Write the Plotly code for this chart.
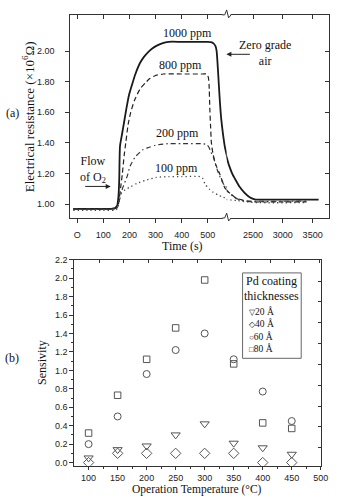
import plotly.graph_objects as go

# ---------------- data: panel (a) ----------------
# early segment (0-600 s) and late segment (2000-3600 s) of each curve
t_1000_early = [-15, 50, 100, 130, 145, 153, 158, 161, 164, 172, 180, 189, 198, 210, 223, 240, 255, 270, 285, 305, 325, 350, 400, 450, 500, 512, 522, 530, 534, 540, 546, 552, 559, 566, 590]
r_1000_early = [0.97, 0.97, 0.97, 0.97, 0.975, 0.99, 1.05, 1.16, 1.38, 1.46, 1.54, 1.63, 1.71, 1.78, 1.85, 1.92, 1.96, 1.99, 2.013, 2.035, 2.05, 2.06, 2.06, 2.06, 2.06, 2.058, 2.05, 2.03, 2.00, 1.85, 1.68, 1.55, 1.45, 1.37, 1.20]
t_1000_late = [2040, 2100, 2150, 2212, 2280, 2350, 2420, 2480, 2545, 2600, 3000, 3600]
r_1000_late = [1.33, 1.25, 1.20, 1.155, 1.11, 1.077, 1.052, 1.038, 1.03, 1.03, 1.03, 1.03]

t_800_early = [-15, 50, 100, 140, 152, 158, 163, 168, 173, 180, 186, 195, 205, 220, 240, 260, 278, 300, 330, 400, 480, 495, 502, 505, 508, 511, 514, 520, 530, 543, 556, 566, 590]
r_800_early = [0.97, 0.97, 0.97, 0.97, 0.975, 1.0, 1.06, 1.13, 1.20, 1.32, 1.40, 1.52, 1.60, 1.68, 1.75, 1.79, 1.82, 1.84, 1.85, 1.85, 1.85, 1.85, 1.83, 1.78, 1.62, 1.50, 1.40, 1.33, 1.26, 1.21, 1.15, 1.105, 1.07]
t_800_late = [2040, 2120, 2215, 2300, 2380, 2500, 3000, 3400]
r_800_late = [1.09, 1.07, 1.04, 1.03, 1.02, 1.015, 1.015, 1.015]

t_200_early = [-15, 50, 100, 140, 155, 161, 173, 192, 203, 223, 253, 273, 300, 348, 400, 480, 496, 505, 512, 521, 540, 565, 590]
r_200_early = [0.97, 0.97, 0.97, 0.97, 0.98, 1.02, 1.10, 1.185, 1.25, 1.31, 1.357, 1.37, 1.385, 1.395, 1.395, 1.395, 1.39, 1.37, 1.34, 1.31, 1.206, 1.12, 1.095]
t_200_late = [2040, 2100, 2189, 2300, 2450, 3400]
r_200_late = [1.10, 1.075, 1.045, 1.025, 1.02, 1.02]

t_100_early = [-15, 50, 100, 140, 150, 158, 163, 170, 185, 200, 228, 260, 303, 350, 400, 470, 480, 490, 505, 521, 540, 559, 590]
r_100_early = [0.96, 0.96, 0.96, 0.96, 0.965, 1.0, 1.06, 1.08, 1.095, 1.11, 1.135, 1.155, 1.175, 1.18, 1.18, 1.18, 1.17, 1.13, 1.10, 1.077, 1.06, 1.045, 1.035]
t_100_late = [2040, 2227, 2434, 2600, 3400]
r_100_late = [1.03, 1.024, 1.013, 1.01, 1.01]

time_ticks_early = [0, 100, 200, 300, 400, 500]
time_labels_early = ["O", "100", "200", "300", "400", "500"]
time_ticks_late = [2500, 3000, 3500]
time_labels_late = ["2500", "3000", "3500"]
res_ticks = [1.00, 1.20, 1.40, 1.60, 1.80, 2.00]
res_labels = ["1.00", "1.20", "1.40", "1.60", "1.80", "2.00"]

# ---------------- data: panel (b) ----------------
temperature = [100, 150, 200, 250, 300, 350, 400, 450]
sens_20A = [0.05, 0.14, 0.18, 0.30, 0.42, 0.21, 0.16, 0.09]
sens_40A = [0.00, 0.10, 0.10, 0.10, 0.10, 0.10, 0.00, 0.00]
sens_60A = [0.20, 0.50, 0.96, 1.22, 1.40, 1.12, 0.77, 0.45]
sens_80A = [0.32, 0.73, 1.12, 1.46, 1.98, 1.07, 0.43, 0.37]
temp_ticks = [100, 150, 200, 250, 300, 350, 400, 450, 500]
legend_labels = ["▽20 Å", "◇40 Å", "○60 Å", "□80 Å"]

# ---------------- helpers ----------------
W, H = 348, 502
def PX(x):
    return x / W
def PY(y):
    return 1 - y / H

SERIF = "Liberation Serif, Times New Roman, serif"
SANS = "Liberation Sans Narrow, Arial Narrow, Liberation Sans, Arial, sans-serif"
INK = "#1a1a1a"
tick_font = dict(family=SANS, size=9, color="#222")

fig = go.Figure()

line_styles = {
    "1000": dict(color=INK, width=1.8, dash="solid"),
    "800": dict(color="#222", width=1.2, dash="5px,3px"),
    "200": dict(color="#333", width=1.2, dash="5px,3px,1.5px,3px"),
    "100": dict(color="#444", width=1.3, dash="1.3px,3px"),
}
series = [
    ("1000", t_1000_early, r_1000_early, t_1000_late, r_1000_late),
    ("800", t_800_early, r_800_early, t_800_late, r_800_late),
    ("200", t_200_early, r_200_early, t_200_late, r_200_late),
    ("100", t_100_early, r_100_early, t_100_late, r_100_late),
]
for name, te, re_, tl, rl in series:
    fig.add_trace(go.Scatter(x=te, y=re_, mode="lines", line=dict(shape="spline", smoothing=0.6, **line_styles[name]),
                             xaxis="x", yaxis="y", showlegend=False, hoverinfo="skip"))
    fig.add_trace(go.Scatter(x=tl, y=rl, mode="lines", line=dict(shape="spline", smoothing=0.6, **line_styles[name]),
                             xaxis="x2", yaxis="y", showlegend=False, hoverinfo="skip"))

marker_color = "#555"
for vals, sym, size in [(sens_20A, "triangle-down-open", 8), (sens_40A, "diamond-open", 8),
                        (sens_60A, "circle-open", 7), (sens_80A, "square-open", 6.5)]:
    fig.add_trace(go.Scatter(x=temperature, y=vals, mode="markers",
                             marker=dict(symbol=sym, size=size, color=marker_color, line=dict(width=1, color=marker_color)),
                             xaxis="x5", yaxis="y3", showlegend=False, hoverinfo="skip"))

# dummy traces so overlay axes are drawn
for xa, ya in [("x3", "y"), ("x4", "y"), ("x2", "y2"), ("x6", "y3"), ("x5", "y4")]:
    fig.add_trace(go.Scatter(x=[None], y=[None], xaxis=xa, yaxis=ya, showlegend=False, hoverinfo="skip"))

base = dict(showgrid=False, zeroline=False, showline=True, linecolor="#333", linewidth=1,
            tickcolor="#333", tickfont=tick_font, ticklen=4)

xr1 = [-26.2, 572.4]
xr2 = [2057, 3774]
yr1 = [0.91, 2.236]

fig.update_layout(
    width=W, height=H, margin=dict(l=0, r=0, t=0, b=0),
    paper_bgcolor="white", plot_bgcolor="white", showlegend=False,
    xaxis=dict(base, domain=[PX(72), PX(232)], range=xr1, anchor="y", ticks="outside",
               tickmode="array", tickvals=time_ticks_early, ticktext=time_labels_early, ticklabelstandoff=4),
    xaxis2=dict(base, domain=[PX(232), PX(336.7)], range=xr2, anchor="y", ticks="outside",
                tickmode="array", tickvals=time_ticks_late, ticktext=time_labels_late, ticklabelstandoff=4),
    xaxis3=dict(base, overlaying="x", side="top", anchor="y", range=xr1, ticks="inside",
                tickmode="array", tickvals=time_ticks_early, showticklabels=False),
    xaxis4=dict(base, overlaying="x2", side="top", anchor="y", range=xr2, ticks="inside",
                tickmode="array", tickvals=time_ticks_late, showticklabels=False),
    yaxis=dict(base, domain=[PY(216), PY(10)], range=yr1, anchor="x", ticks="outside",
               tickmode="array", tickvals=res_ticks, ticktext=res_labels, ticklabelstandoff=9),
    yaxis2=dict(base, overlaying="y", side="right", anchor="x2", range=yr1, ticks="inside",
                tickmode="array", tickvals=res_ticks, showticklabels=False),
    xaxis5=dict(base, domain=[PX(76), PX(328.3)], range=[75.3, 500], anchor="y3", ticks="outside", ticklen=3,
                tickmode="array", tickvals=temp_ticks,
                minor=dict(ticks="outside", dtick=25, tick0=0, ticklen=2, tickcolor="#333")),
    yaxis3=dict(base, domain=[PY(467.3), PY(258.3)], range=[-0.035, 2.2], anchor="x5", ticks="outside",
                tick0=0, dtick=0.2, tickformat=".1f",
                minor=dict(ticks="outside", dtick=0.1, tick0=0, ticklen=2, tickcolor="#333")),
    xaxis6=dict(base, overlaying="x5", side="top", anchor="y3", range=[-1.028, 9.064], ticks="inside",
                tick0=0, dtick=1, ticklen=3, showticklabels=False),
    yaxis4=dict(base, overlaying="y3", side="right", anchor="x5", range=[-0.865, 9.024], ticks="inside",
                tick0=0, dtick=1, ticklen=3, showticklabels=False),
)

# axis break marks
shapes = []
for yb in (10, 216):
    shapes.append(dict(type="line", xref="paper", yref="paper", x0=PX(228), x1=PX(236), y0=PY(yb), y1=PY(yb),
                       line=dict(color="white", width=3), layer="above"))
    path = "M {},{} L {},{} L {},{} L {},{} L {},{}".format(
        PX(227.5), PY(yb), PX(230), PY(yb), PX(232), PY(yb - 5), PX(234), PY(yb + 3), PX(236.5), PY(yb))
    shapes.append(dict(type="path", xref="paper", yref="paper", path=path,
                       line=dict(color="#333", width=1), layer="above"))
# legend box (b)
shapes.append(dict(type="rect", xref="paper", yref="paper", x0=PX(248.3), x1=PX(308.3), y0=PY(358.3), y1=PY(271.7),
                   line=dict(color="#666", width=1), fillcolor="rgba(0,0,0,0)"))
fig.update_layout(shapes=shapes)

def txt(x, y, s, size=12, xanchor="center", angle=0, family=SERIF, align="center"):
    return dict(x=PX(x), y=PY(y), xref="paper", yref="paper", text=s, showarrow=False,
                xanchor=xanchor, yanchor="middle", textangle=angle, align=align,
                font=dict(family=family, size=size, color="#111"))

legend_text = "<br>".join(
    "<span style='font-size:8px'>{}</span>{}".format(lbl[0], lbl[1:]) for lbl in legend_labels)

ann = [
    txt(191.7, 28.5, "1000 ppm"),
    txt(185, 60.7, "800 ppm"),
    txt(181.3, 130, "200 ppm"),
    txt(180.8, 165.5, "100 ppm"),
    txt(271.5, 49, "Zero grade<br>air"),
    txt(95, 166.5, "Flow<br>of O<sub>2</sub>"),
    txt(12.5, 110, "(a)"),
    txt(12.5, 358.3, "(b)"),
    txt(29, 113.5, "Electrical resistance (×10<sup>6</sup>Ω)", size=13, angle=-90),
    txt(186.7, 244, "Time (s)"),
    txt(43.5, 362.5, "Sensivity", angle=-90),
    txt(202, 491.5, "Operation Temperature (°C)", size=11.5),
    txt(278.3, 280, "Pd coating"),
    txt(278.3, 295, "thicknesses"),
    txt(253, 329.5, legend_text, size=9.5, xanchor="left", align="left"),
    dict(x=PX(231.7), y=PY(50), xref="paper", yref="paper", text="", showarrow=True,
         ax=25, ay=0, arrowhead=2, arrowsize=1, arrowwidth=1, arrowcolor="#222"),
    dict(x=PX(113.3), y=PY(184), xref="paper", yref="paper", text="", showarrow=True,
         ax=-27, ay=0, arrowhead=2, arrowsize=1, arrowwidth=1, arrowcolor="#222"),
]
fig.update_layout(annotations=ann)

fig.write_html("out.html")
